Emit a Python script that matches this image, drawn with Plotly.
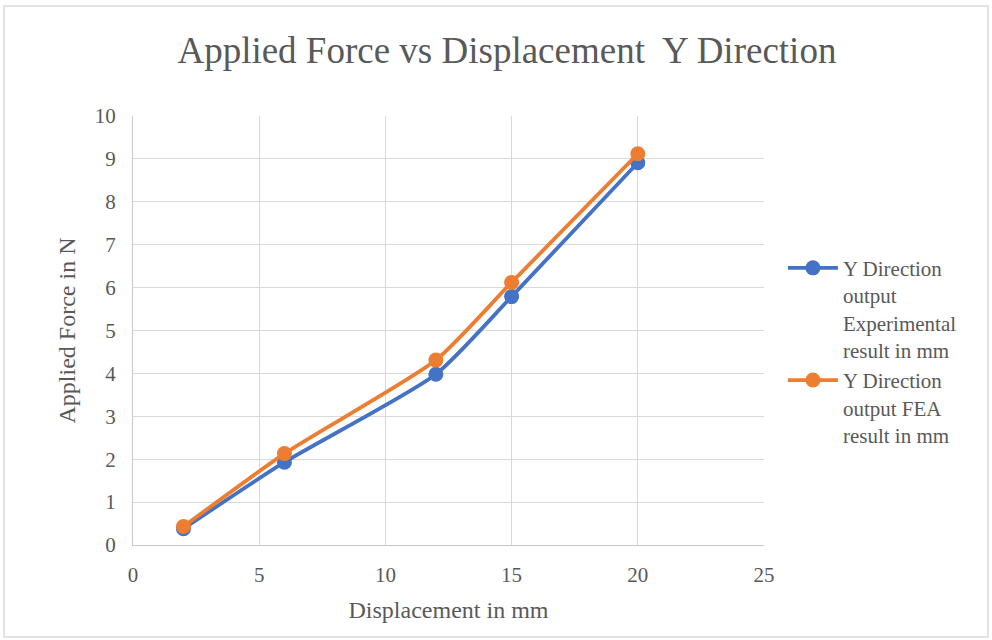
import plotly.graph_objects as go

displacement = [2, 6, 12, 15, 20]
force_experimental = [0.38, 1.93, 3.98, 5.79, 8.91]
force_fea = [0.43, 2.13, 4.31, 6.12, 9.12]

names = ["Y Direction<br>output<br>Experimental<br>result in mm",
         "Y Direction<br>output FEA<br>result in mm"]
colors = ["#4472C4", "#ED7D31"]

font_family = "Liberation Serif, Times New Roman, serif"
text_color = "#595959"
grid_color = "#D9D9D9"

fig = go.Figure()
for yv, nm, c in [(force_experimental, names[0], colors[0]), (force_fea, names[1], colors[1])]:
    fig.add_trace(go.Scatter(
        x=displacement, y=yv, name=nm, mode="lines+markers",
        line=dict(color=c, width=3.8, shape="spline", smoothing=0.6),
        marker=dict(color=c, size=15),
    ))

fig.update_layout(
    width=992, height=640,
    paper_bgcolor="white", plot_bgcolor="white",
    margin=dict(l=133, r=228, t=116, b=95),
    font=dict(family=font_family, color=text_color, size=21),
    title=dict(text="Applied Force vs Displacement  Y Direction",
               x=0.511, xanchor="center", y=0.922, yanchor="middle",
               font=dict(size=37, family=font_family, color=text_color)),
    legend=dict(x=1.03, y=0.693, xanchor="left", yanchor="top",
                font=dict(size=21, family=font_family, color=text_color),
                valign="top", itemwidth=50, tracegroupgap=4),
    showlegend=True,
)
fig.update_xaxes(range=[0, 25], dtick=5, tick0=0, showgrid=True, gridcolor=grid_color,
                 gridwidth=1.3, zeroline=False, showline=True, linecolor="#C8C8C8", linewidth=1.3,
                 ticks="", tickfont=dict(size=21), ticklabelstandoff=11,
                 title=dict(text="Displacement in mm", font=dict(size=24), standoff=14))
fig.update_yaxes(range=[0, 10], dtick=1, tick0=0, showgrid=True, gridcolor=grid_color,
                 gridwidth=1.3, zeroline=False, showline=True, linecolor="#C8C8C8", linewidth=1.3,
                 ticks="", tickfont=dict(size=21), ticklabelstandoff=12,
                 title=dict(text="Applied Force in N", font=dict(size=24), standoff=12))

fig.add_shape(type="rect", xref="paper", yref="paper",
              x0=(4 - 133) / 631, x1=(988 - 133) / 631,
              y0=(545 - 637) / 429, y1=(545 - 6) / 429,
              line=dict(color="#D9D9D9", width=1.5), fillcolor="rgba(0,0,0,0)", layer="below")

fig.write_html("out.html", config={"displayModeBar": False},
               post_script="document.body.style.margin='0';document.body.style.overflow='hidden';")
